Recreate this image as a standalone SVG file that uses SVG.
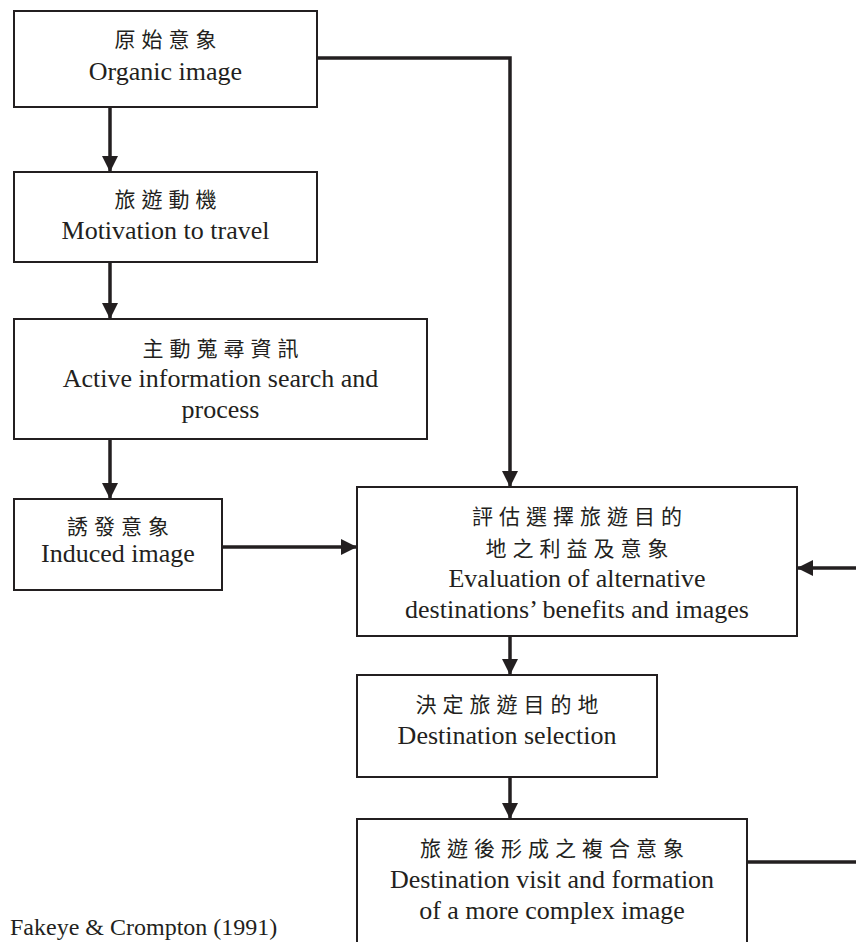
<svg xmlns="http://www.w3.org/2000/svg" width="856" height="942" viewBox="0 0 856 942">
<style>
.box{fill:#fff;stroke:#231f20;stroke-width:2}
.en{font-family:"Liberation Serif","Times New Roman",serif;font-size:26px;fill:#231f20;text-anchor:middle}
.zh{font-family:"Noto Sans CJK TC","Noto Sans CJK SC",sans-serif;font-size:21px;letter-spacing:6px;fill:#231f20;text-anchor:middle}
.con{fill:none;stroke:#231f20;stroke-width:3.5}
.src{font-family:"Liberation Serif","Times New Roman",serif;font-size:24px;fill:#231f20}
</style>
<defs>
<marker id="ah" markerUnits="userSpaceOnUse" markerWidth="16" markerHeight="16" viewBox="0 0 16 16" refX="16" refY="8" orient="auto">
<path d="M0,0 L16,8 L0,16 Z" fill="#231f20"/>
</marker>
</defs>
<rect width="856" height="942" fill="#fff"/>
<g id="connectors">
<path class="con" d="M110,107 V172" marker-end="url(#ah)"/>
<path class="con" d="M110,262 V319" marker-end="url(#ah)"/>
<path class="con" d="M110,439 V499" marker-end="url(#ah)"/>
<path class="con" d="M222,547 H357" marker-end="url(#ah)"/>
<path class="con" d="M317,58 H510 V487" marker-end="url(#ah)"/>
<path class="con" d="M510,636 V675" marker-end="url(#ah)"/>
<path class="con" d="M510,777 V819" marker-end="url(#ah)"/>
<path class="con" d="M747,862 H872 V568 H797" marker-end="url(#ah)"/>
</g>
<g id="organic">
<rect class="box" x="14" y="11" width="303" height="96"/>
<text class="zh" x="168.5" y="47">原始意象</text>
<text class="en" x="165.5" y="80">Organic image</text>
</g>
<g id="motivation">
<rect class="box" x="14" y="172" width="303" height="90"/>
<text class="zh" x="168.5" y="207">旅遊動機</text>
<text class="en" x="165.5" y="239">Motivation to travel</text>
</g>
<g id="search">
<rect class="box" x="14" y="319" width="413" height="120"/>
<text class="zh" x="223.5" y="356">主動蒐尋資訊</text>
<text class="en" x="220.5" y="387">Active information search and</text>
<text class="en" x="220.5" y="418">process</text>
</g>
<g id="induced">
<rect class="box" x="14" y="499" width="208" height="91"/>
<text class="zh" x="121" y="534">誘發意象</text>
<text class="en" x="118" y="562">Induced image</text>
</g>
<g id="evaluation">
<rect class="box" x="357" y="487" width="440" height="149"/>
<text class="zh" x="580" y="524">評估選擇旅遊目的</text>
<text class="zh" x="580" y="556">地之利益及意象</text>
<text class="en" x="577" y="587">Evaluation of alternative</text>
<text class="en" x="577" y="618">destinations’ benefits and images</text>
</g>
<g id="selection">
<rect class="box" x="357" y="675" width="300" height="102"/>
<text class="zh" x="510" y="712">決定旅遊目的地</text>
<text class="en" x="507" y="744">Destination selection</text>
</g>
<g id="visit">
<rect class="box" x="357" y="819" width="390" height="150"/>
<text class="zh" x="555" y="856">旅遊後形成之複合意象</text>
<text class="en" x="552" y="888">Destination visit and formation</text>
<text class="en" x="552" y="919">of a more complex image</text>
</g>
<text class="src" x="10" y="935">Fakeye &amp; Crompton (1991)</text>
</svg>
